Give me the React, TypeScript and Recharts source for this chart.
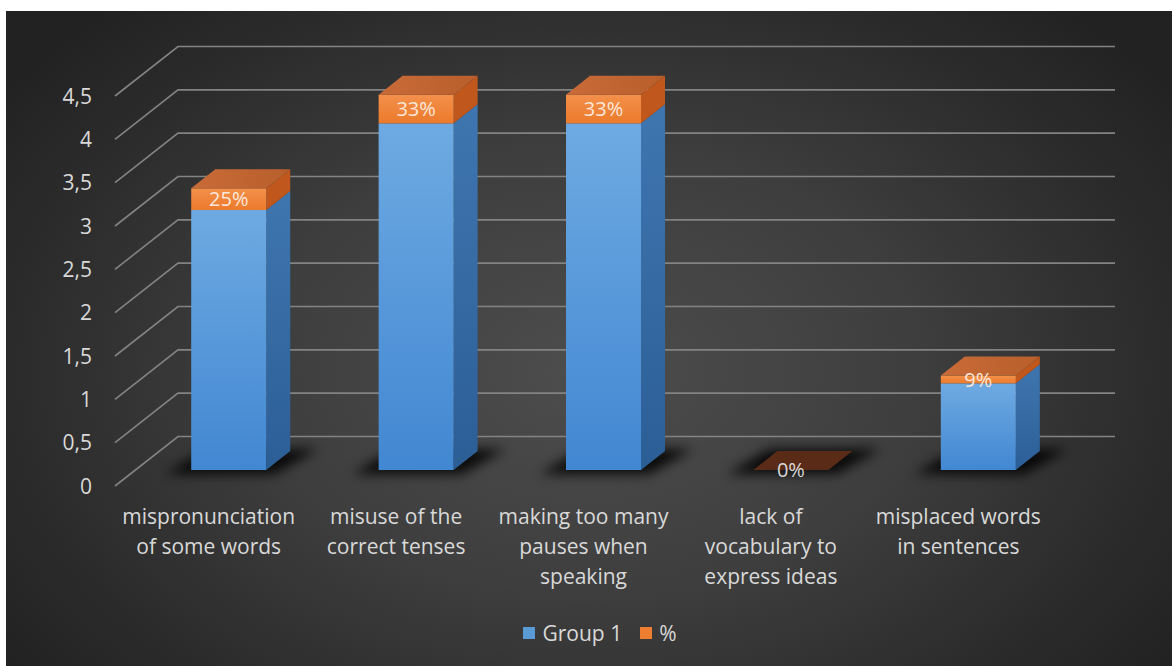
import React from 'react';
import { BarChart, Bar, XAxis, YAxis, CartesianGrid, Legend, LabelList } from 'recharts';

const categories = [
  'mispronunciation of some words',
  'misuse of the correct tenses',
  'making too many pauses when speaking',
  'lack of vocabulary to express ideas',
  'misplaced words in sentences',
];
const categoryLines = [
  ['mispronunciation', 'of some words'],
  ['misuse of the', 'correct tenses'],
  ['making too many', 'pauses when', 'speaking'],
  ['lack of', 'vocabulary to', 'express ideas'],
  ['misplaced words', 'in sentences'],
];
const group1 = [3, 4, 4, 0, 1];
const pct = [0.25, 0.33, 0.33, 0, 0.09];
const pctLabels = ['25%', '33%', '33%', '0%', '9%'];
const yTicks = [0, 0.5, 1, 1.5, 2, 2.5, 3, 3.5, 4, 4.5];
const yTickLabels = ['0', '0,5', '1', '1,5', '2', '2,5', '3', '3,5', '4', '4,5'];
const seriesNames = ['Group 1', '%'];
const seriesColors = ['#5b9bd5', '#ed7d31'];

const data = categories.map((c, i) => ({ name: c, g1: group1[i], pct: pct[i] }));

// 3D projection offsets (pixels)
const WALL_DX = 63;
const WALL_DY = -49.5;
const FRONT_DX = 20;
const FRONT_DY = -16;
const DDX = 24;
const DDY = -19;

const FONT = "'Open Sans', sans-serif";
const TEXT = '#d9d9d9';

const GridLine = (props: any) => {
  const { x1, y1, x2 } = props;
  return (
    <path
      d={`M${x1},${y1} L${x1 + WALL_DX},${y1 + WALL_DY} L${x2 + WALL_DX},${y1 + WALL_DY}`}
      fill="none"
      stroke="#838383"
      strokeWidth={1.6}
    />
  );
};

const Shadow = ({ fx, base, w }: { fx: number; base: number; w: number }) => (
  <polygon
    points={`${fx - 26},${base + 4} ${fx + w + 8},${base + 4} ${fx + w + DDX + 28},${base + DDY - 2} ${fx + DDX - 8},${base + DDY - 2}`}
    fill="#000"
    opacity={0.85}
    filter="url(#shadowBlur)"
  />
);

const BlueShape = (props: any) => {
  const { x, y, width, height } = props;
  const fx = x + FRONT_DX;
  const fy = y + FRONT_DY;
  const base = fy + height;
  return (
    <g>
      <Shadow fx={fx} base={base} w={width} />
      {height > 0.5 && (
        <>
          <polygon
            points={`${fx + width},${fy} ${fx + width + DDX},${fy + DDY} ${fx + width + DDX},${base + DDY} ${fx + width},${base}`}
            fill="url(#blueSide)"
          />
          <rect x={fx} y={fy} width={width} height={height} fill="url(#blueFront)" />
        </>
      )}
    </g>
  );
};

const OrangeShape = (props: any) => {
  const { x, y, width, height } = props;
  const fx = x + FRONT_DX;
  const fy = y + FRONT_DY;
  const base = fy + height;
  const flat = height < 0.5;
  return (
    <g>
      {!flat && (
        <>
          <polygon
            points={`${fx + width},${fy} ${fx + width + DDX},${fy + DDY} ${fx + width + DDX},${base + DDY} ${fx + width},${base}`}
            fill="#c0571c"
          />
          <rect x={fx} y={fy} width={width} height={height} fill="url(#orangeFront)" />
        </>
      )}
      <polygon
        points={`${fx},${fy} ${fx + DDX},${fy + DDY} ${fx + width + DDX},${fy + DDY} ${fx + width},${fy}`}
        fill={flat ? '#5a2c17' : 'url(#orangeTop)'}
      />
    </g>
  );
};

const PctLabel = (props: any) => {
  const { x, y, width, height, index } = props;
  const cx = x + width / 2 + FRONT_DX;
  const cy = y + height / 2 + FRONT_DY;
  const flat = height < 0.5;
  return (
    <text
      x={cx}
      y={cy}
      dy="0.36em"
      textAnchor="middle"
      fontFamily={FONT}
      fontSize={20}
      fill={flat ? TEXT : '#fbe8da'}
    >
      {pctLabels[index]}
    </text>
  );
};

const YTick = (props: any) => {
  const { x, y, index } = props;
  return (
    <text x={x - 23} y={y} dy="0.36em" textAnchor="end" fontFamily={FONT} fontSize={21} fill={TEXT}>
      {yTickLabels[index]}
    </text>
  );
};

const XTick = (props: any) => {
  const { x, y, index } = props;
  const lines = categoryLines[index] || [];
  return (
    <text x={x} y={y + 38} textAnchor="middle" fontFamily={FONT} fontSize={21} fill={TEXT}>
      {lines.map((l, i) => (
        <tspan key={i} x={x} dy={i === 0 ? 0 : 30}>
          {l}
        </tspan>
      ))}
    </text>
  );
};

const LegendContent = (props: any) => {
  const payload = [...(props.payload || [])].sort(
    (a: any, b: any) => seriesNames.indexOf(a.value) - seriesNames.indexOf(b.value)
  );
  return (
    <div
      style={{
        display: 'flex',
        justifyContent: 'center',
        alignItems: 'center',
        height: 24,
        fontFamily: FONT,
        fontSize: 21,
        color: TEXT,
      }}
    >
      {payload.map((p: any, i: number) => (
        <span
          key={i}
          style={{ display: 'inline-flex', alignItems: 'center', marginRight: i === payload.length - 1 ? 0 : 18 }}
        >
          <span
            style={{
              display: 'inline-block',
              width: 12,
              height: 12,
              background: p.color,
              marginRight: 7,
            }}
          />
          {p.value}
        </span>
      ))}
    </div>
  );
};

export default function App() {
  return (
    <div
      style={{
        position: 'absolute',
        left: 6,
        top: 11,
        width: 1166,
        height: 655,
        background:
          'radial-gradient(ellipse 62% 75% at 50% 55%, #4d4d4d 0%, #3e3e3e 45%, #2b2b2b 80%, #222222 100%)',
      }}
    >
      <BarChart
        width={1166}
        height={655}
        data={data}
        margin={{ top: 85, right: 120, left: 49, bottom: 21 }}
        barCategoryGap="30%"
      >
        <defs>
          <linearGradient id="blueFront" x1="0" y1="0" x2="0" y2="1">
            <stop offset="0%" stopColor="#6eaae2" />
            <stop offset="100%" stopColor="#4287d2" />
          </linearGradient>
          <linearGradient id="blueSide" x1="0" y1="0" x2="0" y2="1">
            <stop offset="0%" stopColor="#3f76b0" />
            <stop offset="100%" stopColor="#2c5e96" />
          </linearGradient>
          <linearGradient id="orangeFront" x1="0" y1="0" x2="0" y2="1">
            <stop offset="0%" stopColor="#f3904b" />
            <stop offset="100%" stopColor="#ec7a2c" />
          </linearGradient>
          <linearGradient id="orangeTop" x1="0" y1="0" x2="1" y2="0">
            <stop offset="0%" stopColor="#c96b38" />
            <stop offset="100%" stopColor="#b85f2c" />
          </linearGradient>
          <filter id="shadowBlur" x="-50%" y="-50%" width="200%" height="200%">
            <feGaussianBlur stdDeviation="6" />
          </filter>
        </defs>
        <CartesianGrid vertical={false} horizontal={GridLine as any} />
        <XAxis
          dataKey="name"
          axisLine={false}
          tickLine={false}
          tickSize={0}
          tickMargin={0}
          interval={0}
          height={135}
          tick={XTick}
        />
        <YAxis
          domain={[0, 4.5]}
          ticks={yTicks}
          axisLine={false}
          tickLine={false}
          tickSize={0}
          tickMargin={0}
          width={60}
          tick={YTick}
        />
        <Legend
          verticalAlign="bottom"
          align="center"
          wrapperStyle={{ left: 11, width: 1166 }}
          content={LegendContent}
        />
        <Bar dataKey="g1" name={seriesNames[0]} stackId="s" fill={seriesColors[0]} shape={BlueShape} isAnimationActive={false} />
        <Bar dataKey="pct" name={seriesNames[1]} stackId="s" fill={seriesColors[1]} shape={OrangeShape} isAnimationActive={false}>
          <LabelList dataKey="pct" content={PctLabel} />
        </Bar>
      </BarChart>
    </div>
  );
}
